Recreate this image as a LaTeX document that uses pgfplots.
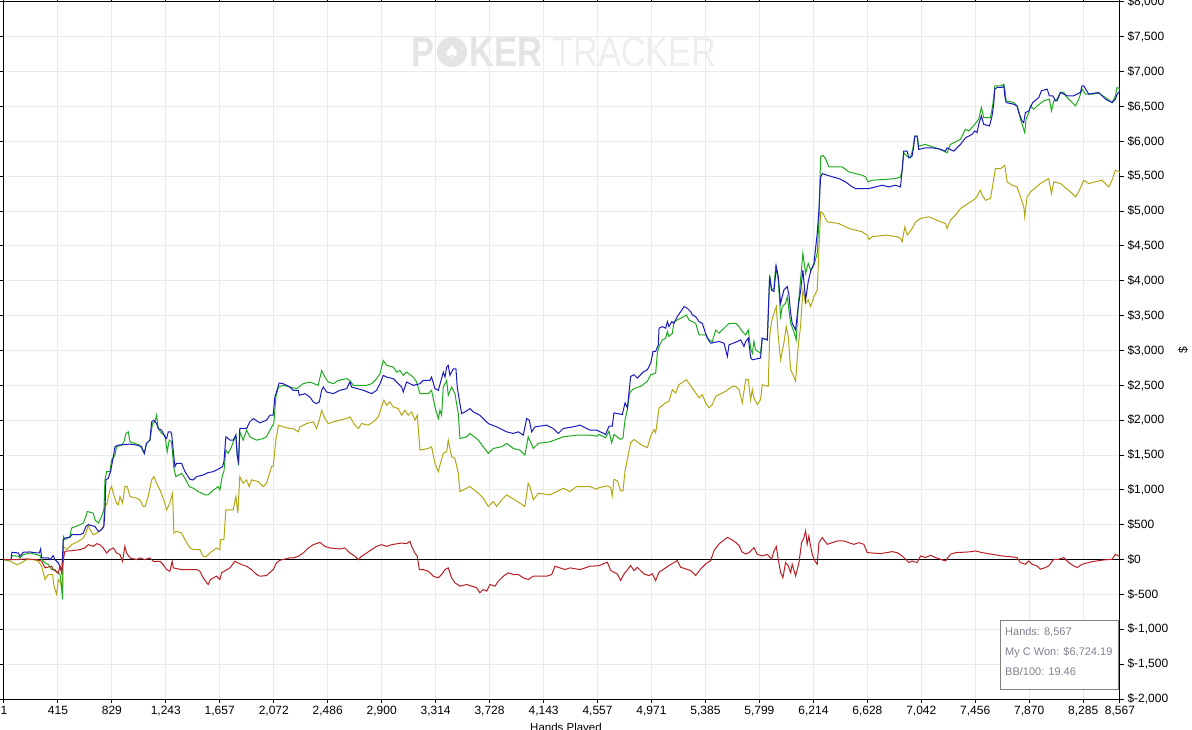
\documentclass[border=0pt]{standalone}
\usepackage{fontspec}
\setmainfont{Liberation Sans}
\newfontfamily\dejavu{DejaVu Sans}
\usepackage{pgfplots}
\pgfplotsset{compat=1.18}
\definecolor{cblue}{RGB}{25,25,190}
\definecolor{cgreen}{RGB}{30,170,30}
\definecolor{cyellow}{RGB}{178,168,20}
\definecolor{cred}{RGB}{185,30,35}
\definecolor{gridc}{RGB}{235,235,235}
\definecolor{wmA}{RGB}{228,228,228}
\definecolor{wmB}{RGB}{238,238,238}
\definecolor{legtext}{RGB}{130,128,145}
\begin{document}
\begin{tikzpicture}
\node[anchor=base west, text=wmA, font=\fontsize{42}{42}\selectfont\bfseries, xscale=0.82, inner sep=0pt] at (407pt,632pt) {P};
\fill[wmA] (448pt,647pt) circle (15pt);
\node[text=white, font=\dejavu\fontsize{18}{18}\selectfont, inner sep=0pt] at (448pt,647pt) {♠};
\node[anchor=base west, text=wmA, font=\fontsize{42}{42}\selectfont\bfseries, xscale=0.82, inner sep=0pt] at (465pt,632pt) {KER};
\node[anchor=base west, text=wmB, font=\fontsize{42}{42}\selectfont, xscale=0.82, inner sep=0pt] at (548pt,632pt) {TRACKER};
\begin{axis}[
  at={(0,0)}, anchor=south west,
  scale only axis, width=1116pt, height=697pt,
  xmin=1, xmax=8567, ymin=-2000, ymax=8000,
  axis line style={black, line width=1pt},
  tick style={black, line width=1pt},
  tick align=outside, major tick length=4pt,
  grid=major, grid style={draw=gridc, line width=1pt},
  yticklabel pos=right,
  xtick={1,415,829,1243,1657,2072,2486,2900,3314,3728,4143,4557,4971,5385,5799,6214,6628,7042,7456,7870,8285,8567},
  xticklabels={1,415,829,{1,243},{1,657},{2,072},{2,486},{2,900},{3,314},{3,728},{4,143},{4,557},{4,971},{5,385},{5,799},{6,214},{6,628},{7,042},{7,456},{7,870},{8,285},{8,567}},
  ytick={-2000,-1500,-1000,-500,0,500,1000,1500,2000,2500,3000,3500,4000,4500,5000,5500,6000,6500,7000,7500,8000},
  yticklabels={{\$-2,000},{\$-1,500},{\$-1,000},{\$-500},{\$0},{\$500},{\$1,000},{\$1,500},{\$2,000},{\$2,500},{\$3,000},{\$3,500},{\$4,000},{\$4,500},{\$5,000},{\$5,500},{\$6,000},{\$6,500},{\$7,000},{\$7,500},{\$8,000}},
  ticklabel style={font=\fontsize{12}{14}\selectfont, text=black},
  every axis plot/.append style={line width=1pt, mark=none},
]
\addplot[black, forget plot] coordinates {(1,0) (8567,0)};
% yellow
\addplot[cyellow] coordinates {
(1,0)(47,-24)(98,-71)(124,-57)(175,0)(226,0)(264,-24)(290,-95)(316,-286)(341,-214)(374,-214)(385,-381)(405,-500)(418,-286)(436,-333)(446,-476)(456,190)(482,143)(520,214)(571,262)(610,310)(630,381)(648,500)(661,429)(686,357)(737,405)(763,476)(776,810)(789,786)(814,1000)(827,1048)(840,952)(865,810)(878,786)(891,905)(911,810)(929,1048)(947,1048)(968,905)(1019,881)(1044,857)(1070,762)(1083,762)(1108,905)(1134,1143)(1152,1190)(1172,1095)(1198,1000)(1228,857)(1249,714)(1274,810)(1295,952)(1305,381)(1326,405)(1364,381)(1390,286)(1428,167)(1453,143)(1504,143)(1530,48)(1556,48)(1581,95)(1632,167)(1658,143)(1663,286)(1689,286)(1704,714)(1760,714)(1781,905)(1796,667)(1811,1190)(1837,1095)(1863,1143)(1883,1048)(1901,1143)(1952,1119)(1991,1048)(2016,1095)(2055,1333)(2067,1333)(2088,1714)(2108,1929)(2144,1905)(2195,1881)
(2221,1881)(2260,1833)(2273,1905)(2324,1952)(2375,1976)(2400,1881)(2421,2000)(2439,2143)(2464,2024)(2490,1952)(2528,1976)(2631,2024)(2656,2048)(2695,1929)(2720,1881)(2746,1952)(2797,1929)(2836,1976)(2874,2048)(2899,2190)(2917,2286)(2938,2214)(2963,2262)(2989,2190)(3027,2167)(3053,2071)(3079,2143)(3104,2071)(3130,2119)(3155,2000)(3173,2071)(3194,1571)(3258,1595)(3283,1619)(3309,1381)(3335,1262)(3347,1357)(3373,1524)(3399,1548)(3411,1714)(3437,1476)(3462,1452)(3488,1238)(3501,976)(3552,1024)(3578,1048)(3642,952)(3680,881)(3718,762)(3757,833)(3782,762)(3821,857)(3859,929)(3923,857)(3961,810)(3999,762)(4025,1095)(4038,1048)(4064,857)(4102,952)(4192,929)(4294,1024)(4345,976)(4397,1048)(4499,1048)(4550,1010)
(4568,1033)(4632,1057)(4658,1033)(4670,914)(4683,1152)(4709,1129)(4734,986)(4752,986)(4768,1271)(4786,1438)(4811,1676)(4837,1724)(4888,1652)(4939,1605)(4965,1771)(4990,1867)(5003,1819)(5029,2176)(5080,2248)(5105,2271)(5131,2438)(5157,2390)(5182,2510)(5239,2581)(5285,2462)(5336,2319)(5361,2367)(5387,2248)(5413,2176)(5438,2224)(5464,2343)(5540,2414)(5592,2486)(5617,2486)(5643,2438)(5668,2248)(5694,2581)(5714,2581)(5732,2294)(5745,2437)(5757,2318)(5783,2223)(5808,2294)(5821,2509)(5867,2485)(5878,3201)(5893,3415)(5911,3535)(5929,3630)(5944,3201)(5962,2867)(5987,3105)(6005,3344)(6021,3201)(6039,2724)(6057,2652)(6077,2557)(6097,3058)(6115,3344)(6133,3868)(6154,3678)(6174,3725)(6192,3630)(6218,3773)(6243,3868)(6256,4441)(6269,4989)(6287,4966)(6320,4846)(6409,4822)(6486,4751)(6588,4703)(6627,4656)(6640,4594)(6665,4632)(6767,4656)(6857,4632)(6882,4608)(6895,4560)(6916,4775)(6934,4656)(6972,4751)(6998,4846)(7036,4894)(7100,4918)(7189,4846)(7228,4822)(7240,4751)(7266,4870)(7304,4942)(7343,5037)(7381,5085)(7458,5180)(7496,5299)(7509,5228)(7535,5156)(7573,5180)(7611,5610)(7650,5610)(7683,5657)(7701,5419)(7739,5371)(7777,5347)(7803,5204)(7829,5061)(7836,4918)(7854,5204)(7880,5276)(7956,5395)(8020,5466)(8041,5252)(8059,5419)(8110,5395)(8187,5276)(8225,5204)(8250,5276)(8289,5443)(8327,5395)(8429,5443)(8481,5347)(8506,5443)(8532,5586)(8567,5560)
};
% green
\addplot[cgreen] coordinates {
(1,0)(55,0)(62,57)(111,48)(124,24)(149,71)(200,95)(252,71)(277,57)(290,0)(316,-48)(341,-71)(367,-143)(392,-143)(410,-190)(431,-214)(443,-381)(451,-571)(456,333)(469,286)(507,333)(520,452)(584,500)(610,524)(630,619)(640,690)(686,667)(699,571)(725,524)(750,619)(768,714)(776,1143)(789,1262)(814,1262)(827,1429)(853,1500)(865,1619)(904,1643)(922,1690)(937,1810)(955,1833)(968,1690)(1044,1643)(1078,1524)(1095,1667)(1121,1714)(1141,1952)(1159,1976)(1172,2071)(1185,1881)(1211,1810)(1236,1786)(1254,1548)(1269,1714)(1287,1690)(1305,1310)(1320,1190)(1364,1238)(1390,1167)(1423,1048)(1453,1024)(1492,976)(1543,929)(1568,929)(1594,976)(1645,1048)(1658,1000)(1678,1214)(1689,1262)(1704,1571)(1722,1524)(1747,1619)(1781,1786)(1791,1500)(1801,1357)(1811,1833)(1837,1714)(1863,1857)(1888,1762)(1940,1714)(1991,1738)(2016,1762)(2042,1857)(2072,1952)(2088,2333)(2108,2476)(2144,2500)(2196,2476)
(2247,2452)(2298,2524)(2349,2548)(2413,2500)(2439,2714)(2464,2619)(2490,2548)(2528,2524)(2567,2571)(2631,2595)(2656,2571)(2682,2500)(2784,2500)(2823,2524)(2861,2595)(2887,2667)(2912,2857)(2938,2786)(2989,2762)(3015,2690)(3040,2714)(3066,2643)(3091,2690)(3143,2619)(3168,2548)(3194,2381)(3258,2381)(3283,2429)(3309,2190)(3335,2024)(3347,2143)(3360,2071)(3373,2476)(3399,2571)(3411,2357)(3437,2476)(3462,2381)(3488,2095)(3501,1738)(3552,1762)(3578,1810)(3642,1714)(3680,1619)(3718,1524)(3757,1595)(3821,1619)(3859,1667)(3910,1595)(3961,1571)(3999,1500)(4025,1762)(4064,1595)(4102,1667)(4192,1690)(4294,1762)(4397,1786)(4499,1786)(4550,1770)
(4568,1795)(4619,1748)(4645,1843)(4665,1676)(4683,1795)(4734,1724)(4752,1748)(4768,2010)(4786,2152)(4803,2390)(4824,2438)(4849,2462)(4888,2486)(4939,2557)(4965,2652)(5003,2676)(5016,2962)(5029,3057)(5054,3152)(5080,3176)(5093,3271)(5105,3200)(5131,3248)(5144,3414)(5195,3462)(5239,3510)(5259,3438)(5310,3390)(5336,3224)(5387,3224)(5413,3152)(5438,3129)(5464,3295)(5489,3248)(5540,3343)(5566,3390)(5617,3390)(5643,3343)(5668,3271)(5694,3224)(5714,3295)(5732,3033)(5745,2962)(5757,3129)(5770,3010)(5808,2962)(5821,3177)(5860,3153)(5878,4083)(5893,3868)(5911,3892)(5924,4202)(5944,4012)(5962,3487)(5975,3630)(6000,3678)(6013,3773)(6039,3391)(6064,3272)(6082,3153)(6097,3630)(6115,4012)(6133,4393)(6154,4107)(6174,4250)(6192,4155)(6218,4226)(6243,4393)(6256,4870)(6269,5777)(6287,5800)(6307,5753)(6333,5633)(6435,5633)(6486,5562)(6537,5538)(6588,5514)(6614,5490)(6634,5419)(6665,5443)(6844,5466)(6882,5490)(6895,5586)
(6907,5836)(6933,5788)(6958,5764)(6976,5884)(6992,6076)(7010,6076)(7022,5932)(7073,5956)(7150,5908)(7201,5874)(7240,5836)(7265,5956)(7317,6004)(7342,6028)(7368,6125)(7381,6173)(7406,6149)(7452,6245)(7483,6317)(7503,6485)(7521,6341)(7572,6341)(7585,6461)(7598,6630)(7606,6798)(7649,6798)(7675,6822)(7683,6750)(7693,6582)(7752,6557)(7777,6509)(7790,6437)(7803,6317)(7816,6245)(7836,6125)(7846,6317)(7867,6413)(7880,6509)(7905,6461)(7931,6509)(7982,6582)(8025,6606)(8041,6437)(8059,6582)(8084,6606)(8110,6702)(8135,6702)(8161,6630)(8212,6533)(8225,6509)(8251,6606)(8276,6750)(8302,6678)(8353,6678)(8404,6692)(8455,6630)(8507,6557)(8532,6654)(8545,6774)(8567,6750)
};
% blue
\addplot[cblue] coordinates {
(1,0)(55,0)(62,105)(111,95)(124,48)(149,105)(200,110)(252,95)(272,95)(282,152)(290,24)(341,24)(354,0)(379,57)(392,0)(418,-48)(436,-119)(446,-143)(456,286)(469,310)(507,319)(520,357)(584,357)(610,381)(630,476)(648,500)(699,476)(725,405)(750,429)(768,476)(776,714)(783,1143)(801,1167)(819,1262)(840,1476)(853,1619)(878,1643)(968,1657)(1019,1643)(1057,1619)(1078,1524)(1095,1667)(1121,1714)(1134,1976)(1152,2000)(1172,1952)(1185,1881)(1211,1857)(1236,1762)(1249,1738)(1262,1833)(1280,1833)(1287,1810)(1300,1571)(1313,1333)(1326,1381)(1364,1381)(1390,1262)(1428,1152)(1453,1143)(1479,1190)(1530,1214)(1568,1248)(1607,1262)(1658,1310)(1678,1333)(1689,1405)(1704,1762)(1735,1714)(1760,1714)(1781,1786)(1791,1500)(1801,1405)(1811,1881)(1863,1881)(1888,1976)(1914,2024)(1965,1962)(2016,2000)(2042,2071)(2067,2071)(2080,2333)(2093,2405)(2113,2533)(2144,2524)(2195,2476)
(2221,2429)(2260,2429)(2267,2357)(2311,2381)(2349,2333)(2375,2262)(2400,2238)(2421,2262)(2439,2429)(2452,2476)(2477,2405)(2528,2381)(2580,2429)(2631,2452)(2656,2548)(2669,2476)(2759,2429)(2823,2381)(2861,2429)(2887,2524)(2912,2643)(2938,2619)(2989,2595)(3027,2524)(3053,2476)(3066,2405)(3091,2548)(3143,2500)(3194,2524)(3219,2571)(3271,2571)(3283,2619)(3309,2452)(3335,2429)(3373,2690)(3386,2619)(3399,2762)(3411,2786)(3424,2643)(3450,2738)(3470,2738)(3480,2476)(3496,2286)(3514,2095)(3539,2119)(3578,2167)(3603,2119)(3654,2071)(3718,1952)(3782,1905)(3859,1833)(3910,1810)(3949,1833)(3987,1786)(4013,2024)(4033,2000)(4051,1833)(4077,1905)(4166,1929)(4217,1881)(4256,1810)(4294,1881)(4371,1905)(4422,1929)(4499,1857)(4550,1857)
(4594,1819)(4619,1795)(4645,1914)(4670,1914)(4683,2105)(4747,2081)(4768,2248)(4786,2176)(4811,2629)(4837,2652)(4862,2605)(4888,2652)(4913,2700)(4939,2724)(4965,2819)(4983,2986)(5003,2986)(5023,3081)(5029,3319)(5054,3343)(5080,3319)(5093,3414)(5105,3343)(5126,3414)(5144,3390)(5169,3486)(5195,3557)(5221,3629)(5246,3605)(5272,3557)(5285,3510)(5310,3486)(5336,3414)(5361,3390)(5382,3271)(5400,3176)(5425,3105)(5489,3129)(5528,3105)(5553,2914)(5566,3081)(5630,3129)(5656,3152)(5681,3057)(5694,3129)(5714,3176)(5732,2900)(5745,2867)(5808,2891)(5821,3177)(5860,3153)(5878,4059)(5893,3868)(5911,3845)(5929,4202)(5944,4059)(5962,3678)(5987,3868)(6013,3916)(6026,3797)(6039,3535)(6051,3391)(6077,3296)(6097,3630)(6115,3845)(6133,4155)(6154,3725)(6174,3988)(6192,4131)(6218,4250)(6243,4679)(6256,5013)(6269,5490)(6282,5538)(6320,5514)(6409,5466)(6461,5419)(6512,5347)(6537,5323)(6640,5323)(6691,5347)(6742,5371)(6793,5347)(6844,5371)(6882,5347)(6895,5586)
(6907,5860)(6933,5860)(6946,5764)(6971,5788)(6984,5932)(6992,6076)(7010,6076)(7022,5884)(7073,5908)(7125,5908)(7176,5894)(7227,5860)(7240,5908)(7291,5860)(7317,5908)(7342,5956)(7381,6052)(7432,6101)(7452,6149)(7470,6125)(7483,6245)(7503,6365)(7521,6245)(7565,6221)(7585,6365)(7598,6533)(7606,6750)(7624,6774)(7662,6774)(7675,6798)(7683,6654)(7693,6557)(7752,6533)(7777,6509)(7790,6413)(7816,6293)(7828,6269)(7841,6413)(7867,6437)(7897,6557)(7944,6630)(7964,6726)(8008,6750)(8025,6654)(8051,6654)(8072,6582)(8084,6582)(8110,6702)(8161,6654)(8212,6654)(8263,6702)(8276,6798)(8289,6798)(8327,6678)(8404,6702)(8455,6606)(8507,6557)(8532,6606)(8545,6678)(8567,6724)
};
% red
\addplot[cred] coordinates {
(1,0)(98,0)(175,10)(252,0)(290,-24)(316,-119)(367,-95)(379,-143)(418,-190)(431,-95)(443,-190)(456,0)(469,119)(546,133)(584,143)(622,167)(648,214)(686,190)(712,229)(737,214)(763,167)(789,95)(814,143)(840,167)(865,95)(891,71)(911,-24)(929,190)(942,95)(968,24)(1019,0)(1044,24)(1083,0)(1121,24)(1147,-24)(1198,-24)(1223,-71)(1249,-143)(1274,-167)(1292,-24)(1300,-119)(1364,-143)(1479,-143)(1504,-167)(1530,-262)(1568,-357)(1586,-286)(1632,-238)(1658,-286)(1671,-190)(1735,-119)(1773,-24)(1824,-71)(1863,-95)(1901,-143)(1940,-214)(1965,-238)(2016,-229)(2067,-143)(2093,-48)(2118,-10)(2195,24)
(2221,24)(2260,48)(2298,95)(2337,167)(2375,214)(2426,248)(2464,190)(2503,167)(2580,152)(2618,167)(2656,95)(2695,48)(2720,0)(2746,48)(2784,95)(2823,143)(2861,190)(2899,214)(2938,190)(2976,214)(3053,238)(3091,229)(3117,262)(3130,190)(3155,95)(3173,48)(3189,-143)(3219,-143)(3258,-167)(3296,-238)(3335,-262)(3360,-214)(3386,-143)(3411,-119)(3437,-262)(3462,-333)(3501,-381)(3552,-357)(3629,-405)(3654,-476)(3680,-429)(3706,-452)(3731,-357)(3770,-381)(3795,-310)(3834,-238)(3872,-190)(3910,-214)(3949,-214)(3987,-262)(4025,-286)(4064,-238)(4166,-238)(4205,-214)(4230,-95)(4307,-143)(4345,-119)(4422,-143)(4499,-95)(4550,-90)
(4568,-86)(4632,-38)(4658,-157)(4709,-205)(4734,-300)(4760,-205)(4811,-86)(4837,-157)(4862,-110)(4913,-205)(4952,-229)(4977,-205)(5003,-300)(5029,-181)(5105,-86)(5169,-14)(5195,-110)(5272,-157)(5310,-229)(5349,-133)(5387,-62)(5425,-14)(5451,129)(5489,224)(5553,319)(5579,295)(5617,248)(5643,200)(5668,105)(5694,81)
(5719,100)(5757,172)(5783,76)(5821,52)(5860,76)(5893,5)(5911,124)(5929,186)(5944,5)(5962,-186)(5980,-258)(6000,-43)(6021,-91)(6039,-186)(6051,-67)(6077,-234)(6103,-43)(6123,243)(6141,315)(6154,410)(6166,219)(6179,339)(6192,196)(6205,76)(6225,-19)(6243,-67)(6256,243)(6282,315)(6320,219)(6397,267)(6448,267)(6524,219)(6563,243)(6601,219)(6627,100)(6729,86)(6819,114)(6857,100)(6895,52)(6921,5)(6946,-43)(6972,-19)(7010,-43)(7036,52)(7074,29)(7113,62)(7151,29)(7189,5)(7228,-19)(7266,76)(7304,100)(7407,110)(7458,124)(7509,100)(7586,76)(7662,52)(7739,38)(7777,29)(7803,-43)(7841,-67)(7867,-19)(7893,-67)(7931,-91)(7956,-138)(7995,-114)(8020,-91)(8059,5)(8097,5)(8135,29)(8174,-43)(8212,-91)(8238,-114)(8276,-67)(8353,-29)(8442,-5)(8506,5)(8532,76)(8567,40)
};
\end{axis}
% legend box
\draw[draw={rgb,255:red,128;green,128;blue,128}, fill=white, line width=1pt] (996.7pt,9.7pt) rectangle (1114.3pt,78.3pt);
\node[anchor=west, text=legtext, font=\fontsize{11}{13}\selectfont, inner sep=0pt] at (1001pt,66.3pt) {Hands: 8,567};
\node[anchor=west, text=legtext, font=\fontsize{11}{13}\selectfont, inner sep=0pt] at (1001pt,46.3pt) {My C Won: \$6,724.19};
\node[anchor=west, text=legtext, font=\fontsize{11}{13}\selectfont, inner sep=0pt] at (1001pt,27.3pt) {BB/100: 19.46};
% axis labels
\node[rotate=90, font=\fontsize{12}{14}\selectfont, inner sep=0pt] at (1179pt,349pt) {\$};
\node[anchor=north, font=\fontsize{11.5}{13}\selectfont, inner sep=0pt] at (562pt,-24pt) {Hands Played};
\pgfresetboundingbox
\useasboundingbox (-4pt,-30pt) rectangle (1188pt,699pt);
\end{tikzpicture}
\end{document}
